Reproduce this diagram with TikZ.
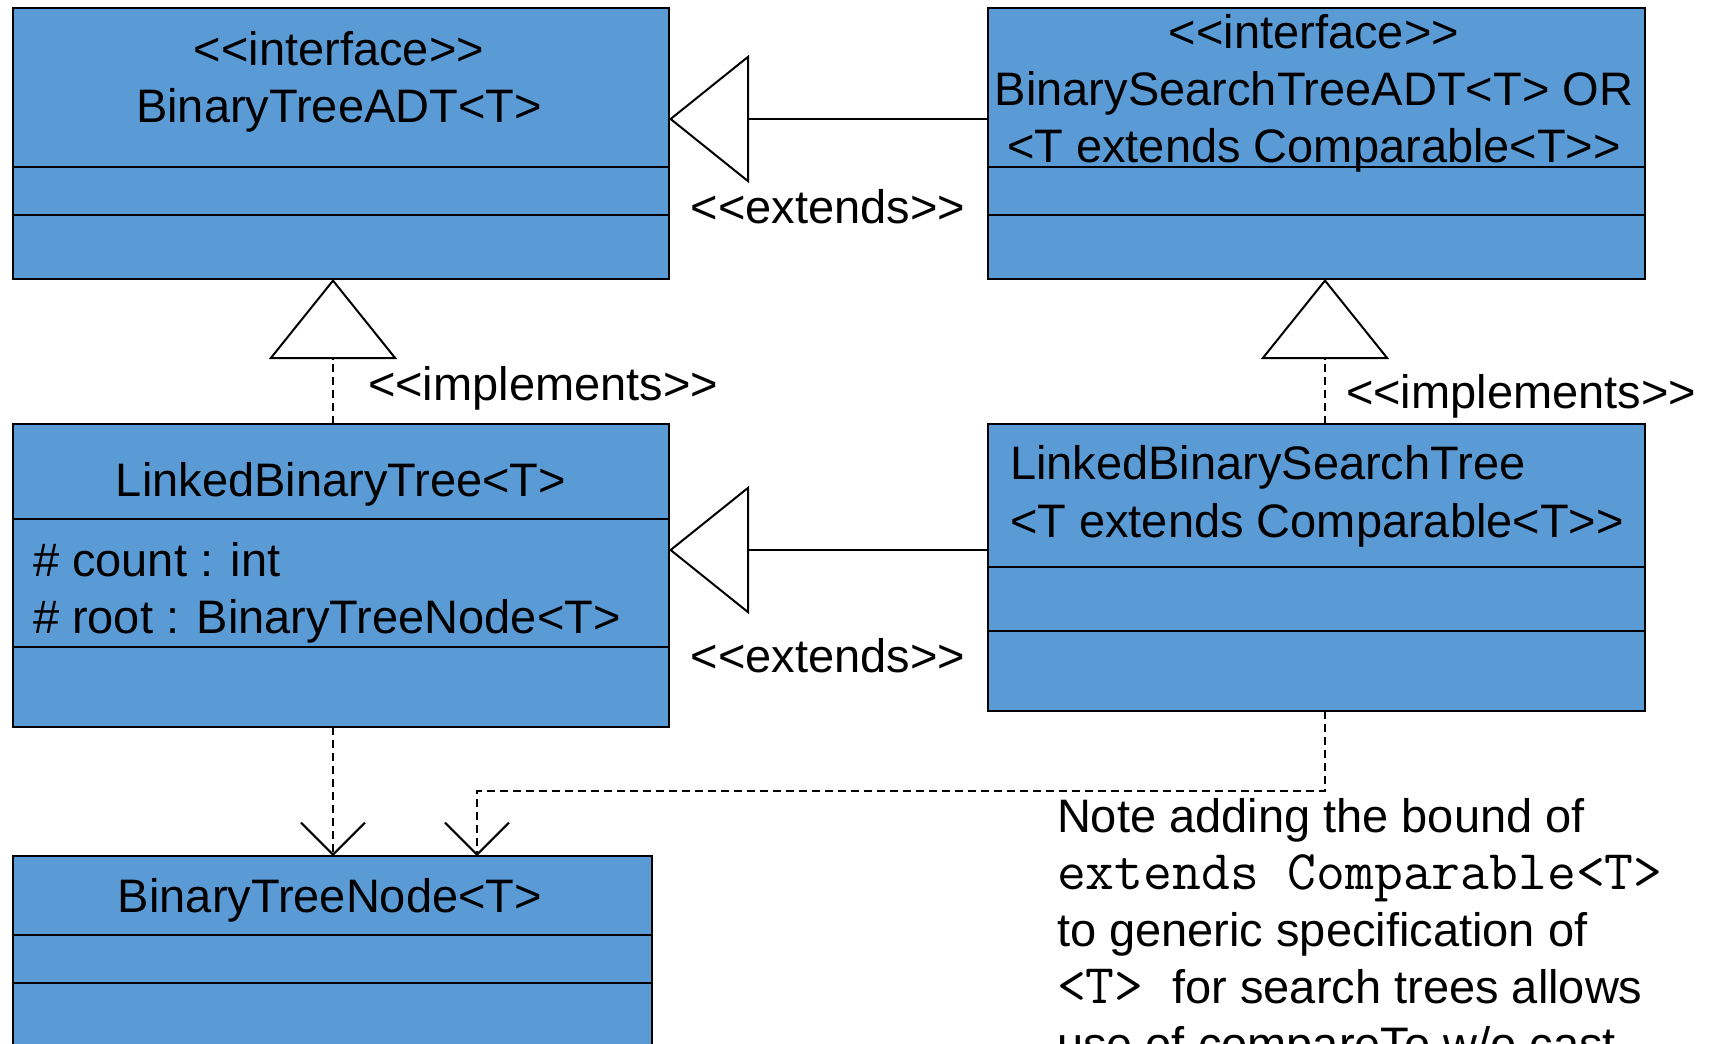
\documentclass[tikz,border=0pt]{standalone}
\usepackage{fontspec}
\usetikzlibrary{arrows.meta}
\newfontfamily\umlsans{Liberation Sans}
\newcommand{\umlfont}{\umlsans\fontsize{47}{57}\selectfont}
\newcommand{\notemono}{\ttfamily\fontsize{56}{57}\selectfont}
\definecolor{classblue}{HTML}{5B9BD5}
\tikzset{
  classbox/.style={draw, line width=2.4pt, fill=classblue, inner sep=0pt, outer sep=0pt, anchor=north west},
  divider/.style={line width=2pt},
  txt/.style={inner sep=0pt, outer sep=0pt},
  generalize/.style={line width=2pt, -{Triangle[open, length=80pt, width=128pt]}},
  realize/.style={generalize, dash pattern=on 8pt off 5pt},
  depend/.style={line width=2pt, dash pattern=on 8pt off 5pt, -{Straight Barb[length=32pt, width=64pt]}}
}
\begin{document}
\begin{tikzpicture}[x=1pt, y=-1pt, font=\umlfont]
\useasboundingbox (0,0) rectangle (1709,1044);

%1
\node[classbox, minimum width=656pt, minimum height=271pt] (adt) at (13,8) {};
\draw[divider] (adt.west |- 0,167) -- (adt.east |- 0,167);
\draw[divider] (adt.west |- 0,215) -- (adt.east |- 0,215);
\node[txt, anchor=base, align=center] (adtname) at (339,122) {<<interface>>\\BinaryTreeADT<T>};

%2
\node[classbox, minimum width=657pt, minimum height=271pt] (bstadt) at (988,8) {};
\draw[divider] (bstadt.west |- 0,167) -- (bstadt.east |- 0,167);
\draw[divider] (bstadt.west |- 0,215) -- (bstadt.east |- 0,215);
\node[txt, anchor=base, align=center] (bstadtname) at (1314,162) {<<interface>>\\BinarySearchTreeADT<T> OR\\<T extends Comparable<T>>};

%3
\node[classbox, minimum width=656pt, minimum height=303pt] (lbt) at (13,424) {};
\draw[divider] (lbt.west |- 0,519) -- (lbt.east |- 0,519);
\draw[divider] (lbt.west |- 0,647) -- (lbt.east |- 0,647);
\node[txt, anchor=base] (lbtname) at (341,496) {LinkedBinaryTree<T>};
\node[txt, anchor=base west, align=left] (lbtattr) at (33,633) {\# count : int\\\# root : BinaryTreeNode<T>};

%4
\node[classbox, minimum width=657pt, minimum height=287pt] (lbst) at (988,424) {};
\draw[divider] (lbst.west |- 0,567) -- (lbst.east |- 0,567);
\draw[divider] (lbst.west |- 0,631) -- (lbst.east |- 0,631);
\node[txt, anchor=base west, align=left, font=\umlsans\fontsize{47}{58}\selectfont] (lbstname) at (1010,537) {LinkedBinarySearchTree\\<T extends Comparable<T>>};

%5
\node[classbox, minimum width=639pt, minimum height=230pt] (btn) at (13,856) {};
\draw[divider] (btn.west |- 0,935) -- (btn.east |- 0,935);
\draw[divider] (btn.west |- 0,983) -- (btn.east |- 0,983);
\node[txt, anchor=base] (btnname) at (330,912) {BinaryTreeNode<T>};

% relations
\draw[generalize] (bstadt.west |- 0,119) -- (adt.east |- 0,119);
\draw[generalize] (lbst.west |- 0,550) -- (lbt.east |- 0,550);
\draw[realize] (lbt.north -| 333,0) -- (adt.south -| 333,0);
\draw[realize] (lbst.north -| 1325,0) -- (bstadt.south -| 1325,0);
\draw[depend] (lbt.south -| 333,0) -- (btn.north -| 333,0);
\draw[depend] (lbst.south -| 1325,0) |- (477,791) -- (btn.north -| 477,0);

\node[txt, anchor=base] (ext1) at (828,223) {<<extends>>};
\node[txt, anchor=base] (ext2) at (828,672) {<<extends>>};
\node[txt, anchor=base west] (impl1) at (368,400) {<<implements>>};
\node[txt, anchor=base west] (impl2) at (1346,408) {<<implements>>};

% note
\node[txt, anchor=base west, align=left, font=\umlsans\fontsize{47}{57}\selectfont] (note) at (1057,1060)
  {Note adding the bound of\\{\notemono extends Comparable<T>}\\to generic specification of\\{\notemono <T> }for search trees allows\\use of compareTo w/o cast};
\end{tikzpicture}
\end{document}
